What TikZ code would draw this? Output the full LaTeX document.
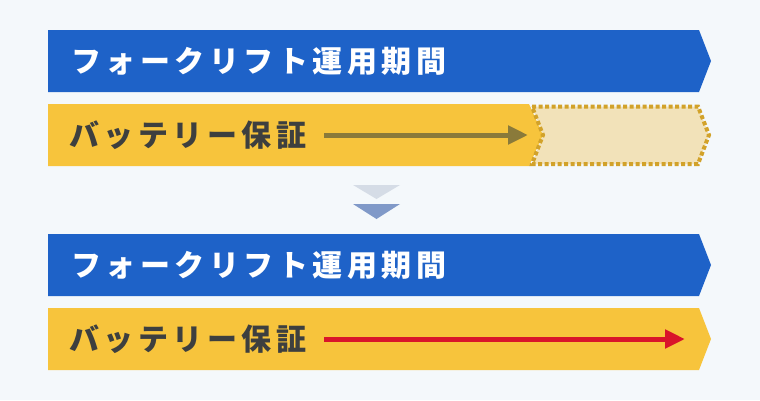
\documentclass[tikz,border=0pt]{standalone}
\usepackage{fontspec}
\usetikzlibrary{arrows.meta}
\newfontfamily\jpfont{Noto Sans CJK JP}[LetterSpace=15]
\definecolor{bgpale}{HTML}{F4F8FB}
\definecolor{bluebar}{HTML}{1E62C8}
\definecolor{yellowbar}{HTML}{F7C43C}
\definecolor{textdark}{HTML}{3D3F3F}
\definecolor{olivearrow}{HTML}{8A7A3A}
\definecolor{extrafill}{HTML}{F2E2B9}
\definecolor{extraline}{HTML}{D2A22A}
\definecolor{redarrow}{HTML}{D9142A}
\definecolor{triLight}{HTML}{D5DCE6}
\definecolor{triDark}{HTML}{8099C8}

\begin{document}
\begin{tikzpicture}[x=1pt,y=-1pt,
        label/.style = {anchor=west, inner sep=0pt, font=\jpfont\bfseries\fontsize{30}{32}\selectfont},
        period/.style = {label, text=white},
        warranty/.style = {label, text=textdark},
        span/.style = {-{Triangle[length=20pt,width=18pt]}, line width=5pt}]
    \fill[bgpale] (0,0) rectangle (760,400);
    \useasboundingbox (0,0) rectangle (760,400);
    % before
    \fill[bluebar] (48,30) -- (699,30) -- (711,61) -- (699,92) -- (48,92) -- cycle;
    \fill[yellowbar] (48,104) -- (529,104) -- (543,135) -- (529,166) -- (48,166) -- cycle;
    \filldraw[fill=extrafill, draw=extraline, line width=4pt, dash pattern=on 4pt off 2.5pt]
        (532,106.5) -- (698,106.5) -- (709,135) -- (698,164) -- (532,164) -- (543,135) -- cycle;
    \node[period] (period1) at (71,61) {フォークリフト運用期間};
    \node[warranty] (warranty1) at (69,135) {バッテリー保証};
    \coordinate (end1) at (528,135);
    \draw[span, olivearrow] ([xshift=18pt]warranty1.east) -- (end1);
    % arrows down
    \fill[triLight] (353,185) -- (400,185) -- (376.5,199) -- cycle;
    \fill[triDark] (353,204) -- (400,204) -- (376.5,219) -- cycle;
    % after
    \fill[bluebar] (48,234) -- (699,234) -- (711,265) -- (699,296) -- (48,296) -- cycle;
    \fill[yellowbar] (48,308) -- (699,308) -- (711,339) -- (699,370) -- (48,370) -- cycle;
    \node[period] (period2) at (71,265) {フォークリフト運用期間};
    \node[warranty] (warranty2) at (69,339) {バッテリー保証};
    \coordinate (end2) at (685,339);
    \draw[span, redarrow] ([xshift=18pt]warranty2.east) -- (end2);
\end{tikzpicture}
\end{document}
